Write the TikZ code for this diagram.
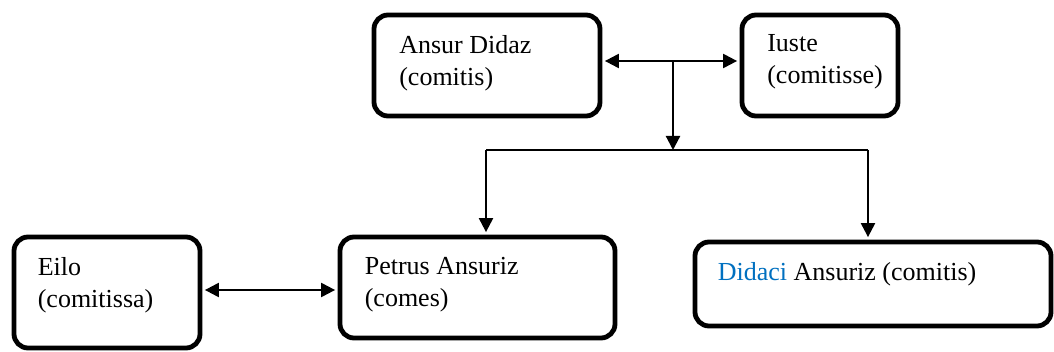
\documentclass[tikz,border=0pt]{standalone}
\usepackage{fontspec}
\setmainfont{Liberation Serif}
\usetikzlibrary{arrows.meta, positioning, calc}
\definecolor{nameblue}{RGB}{0,112,192}
\tikzset{
  personbox/.style={
    rectangle, draw=black, rounded corners=14pt, line width=4.8pt, inner sep=0pt
  },
  persontext/.style={anchor=base west, inner sep=0pt, align=left, font=\fontsize{26}{32}\selectfont},
  link/.style={{Triangle[length=14pt,width=14pt]}-{Triangle[length=14pt,width=14pt]}, line width=2.2pt, shorten <=2.5pt, shorten >=2.5pt},
  descent/.style={-{Triangle[length=14pt,width=14pt]}, line width=2.2pt},
  bar/.style={line width=1.6pt}
}

\begin{document}
\begin{tikzpicture}[x=1pt, y=-1pt]
    \useasboundingbox (0,0) rectangle (1054,352);
    
    % Parents
    \node[personbox, minimum width=226pt, minimum height=101pt] (ansur) at (487,65.5) {};
    \node[personbox, minimum width=156pt, minimum height=101pt] (iuste) at (820,65.5) {};
    
    % Children and spouse
    \node[personbox, minimum width=275pt, minimum height=101pt] (petrus) at (477.5,287.5) {};
    \node[personbox, minimum width=356pt, minimum height=84pt] (didaci) at (873,284) {};
    \node[personbox, minimum width=186pt, minimum height=111pt] (eilo) at (107,292.5) {};
    
    % Names (base = last line)
    \node[persontext] (ansurname) at ($(ansur.north west)+(27.5,73)$) {Ansur Didaz\\(comitis)};
    \node[persontext] (iustename) at ($(iuste.north west)+(27.5,71)$) {Iuste\\(comitisse)};
    \node[persontext] (petrusname) at ($(petrus.north west)+(27,72)$) {Petrus Ansuriz\\(comes)};
    \node[persontext] (didaciname) at ($(didaci.north west)+(25,40.5)$) {\textcolor{nameblue}{Didaci} Ansuriz (comitis)};
    \node[persontext] (eiloname) at ($(eilo.north west)+(26,72.5)$) {Eilo\\(comitissa)};
    
    % Connectors
    \coordinate (marriage) at (673,61);
    \coordinate (split) at (673,150);
    \coordinate (leftdrop) at (486,150);
    \coordinate (rightdrop) at (868,150);
    \coordinate (wedding) at (270,290);
    
    \draw[link] (ansur.east |- marriage) -- (iuste.west |- marriage);
    \draw[descent] (marriage) -- (split);
    \draw[bar] (leftdrop) -- (rightdrop);
    \draw[descent, shorten >=2.5pt] (leftdrop) -- (leftdrop |- petrus.north);
    \draw[descent, shorten >=2.5pt] (rightdrop) -- (rightdrop |- didaci.north);
    \draw[link] (eilo.east |- wedding) -- (petrus.west |- wedding);
    
\end{tikzpicture}
\end{document}
